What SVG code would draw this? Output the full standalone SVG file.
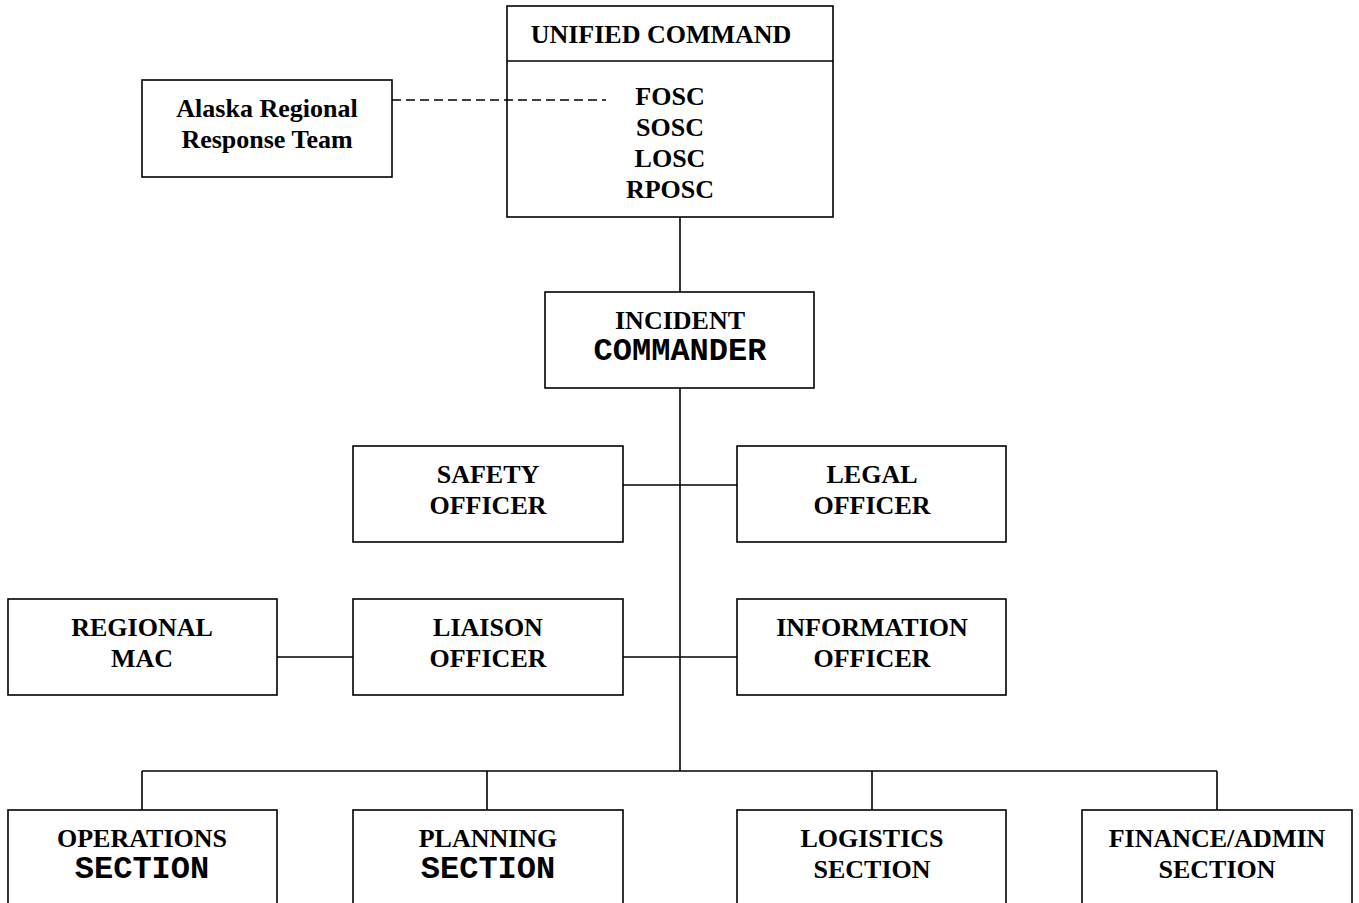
<svg xmlns="http://www.w3.org/2000/svg" width="1359" height="903" viewBox="0 0 1359 903">
<style>
.box{fill:#fff;stroke:#000;stroke-width:1.6}
.ln{fill:none;stroke:#000;stroke-width:1.6}
.dash{fill:none;stroke:#000;stroke-width:1.6;stroke-dasharray:9 5}
text{font-family:"Liberation Serif","Times New Roman",serif;font-weight:bold;font-size:26px;fill:#000;text-anchor:middle}
.mono{font-family:"Liberation Mono","Courier New",monospace;font-size:32px}
</style>
<rect width="1359" height="903" fill="#fff"/>
<g id="unified-command">
<rect class="box" x="507" y="6" width="326" height="211"/>
<line class="ln" x1="507" y1="61" x2="833" y2="61"/>
<text x="661" y="43">UNIFIED COMMAND</text>
<text x="670" y="105">FOSC</text>
<text x="670" y="136">SOSC</text>
<text x="670" y="167">LOSC</text>
<text x="670" y="198">RPOSC</text>
</g>
<g id="arrt">
<rect class="box" x="142" y="80" width="250" height="97"/>
<text x="267" y="117">Alaska Regional</text>
<text x="267" y="148">Response Team</text>
</g>
<g id="incident-commander">
<rect class="box" x="545" y="292" width="269" height="96"/>
<text x="680" y="329">INCIDENT</text>
<text class="mono" x="680" y="360">COMMANDER</text>
</g>
<g id="safety-officer">
<rect class="box" x="353" y="446" width="270" height="96"/>
<text x="488" y="483">SAFETY</text>
<text x="488" y="514">OFFICER</text>
</g>
<g id="legal-officer">
<rect class="box" x="737" y="446" width="269" height="96"/>
<text x="872" y="483">LEGAL</text>
<text x="872" y="514">OFFICER</text>
</g>
<g id="regional-mac">
<rect class="box" x="8" y="599" width="269" height="96"/>
<text x="142" y="636">REGIONAL</text>
<text x="142" y="667">MAC</text>
</g>
<g id="liaison-officer">
<rect class="box" x="353" y="599" width="270" height="96"/>
<text x="488" y="636">LIAISON</text>
<text x="488" y="667">OFFICER</text>
</g>
<g id="information-officer">
<rect class="box" x="737" y="599" width="269" height="96"/>
<text x="872" y="636">INFORMATION</text>
<text x="872" y="667">OFFICER</text>
</g>
<g id="operations-section">
<rect class="box" x="8" y="810" width="269" height="110"/>
<text x="142" y="847">OPERATIONS</text>
<text class="mono" x="142" y="878">SECTION</text>
</g>
<g id="planning-section">
<rect class="box" x="353" y="810" width="270" height="110"/>
<text x="488" y="847">PLANNING</text>
<text class="mono" x="488" y="878">SECTION</text>
</g>
<g id="logistics-section">
<rect class="box" x="737" y="810" width="269" height="110"/>
<text x="872" y="847">LOGISTICS</text>
<text x="872" y="878">SECTION</text>
</g>
<g id="finance-admin-section">
<rect class="box" x="1082" y="810" width="270" height="110"/>
<text x="1217" y="847">FINANCE/ADMIN</text>
<text x="1217" y="878">SECTION</text>
</g>
<g id="connectors">
<line class="dash" x1="392" y1="100" x2="606" y2="100"/>
<line class="ln" x1="680" y1="217" x2="680" y2="292"/>
<line class="ln" x1="680" y1="388" x2="680" y2="771"/>
<line class="ln" x1="623" y1="485" x2="737" y2="485"/>
<line class="ln" x1="623" y1="657" x2="737" y2="657"/>
<line class="ln" x1="277" y1="657" x2="353" y2="657"/>
<line class="ln" x1="142" y1="771" x2="1217" y2="771"/>
<line class="ln" x1="142" y1="771" x2="142" y2="810"/>
<line class="ln" x1="487" y1="771" x2="487" y2="810"/>
<line class="ln" x1="872" y1="771" x2="872" y2="810"/>
<line class="ln" x1="1217" y1="771" x2="1217" y2="810"/>
</g>
</svg>
